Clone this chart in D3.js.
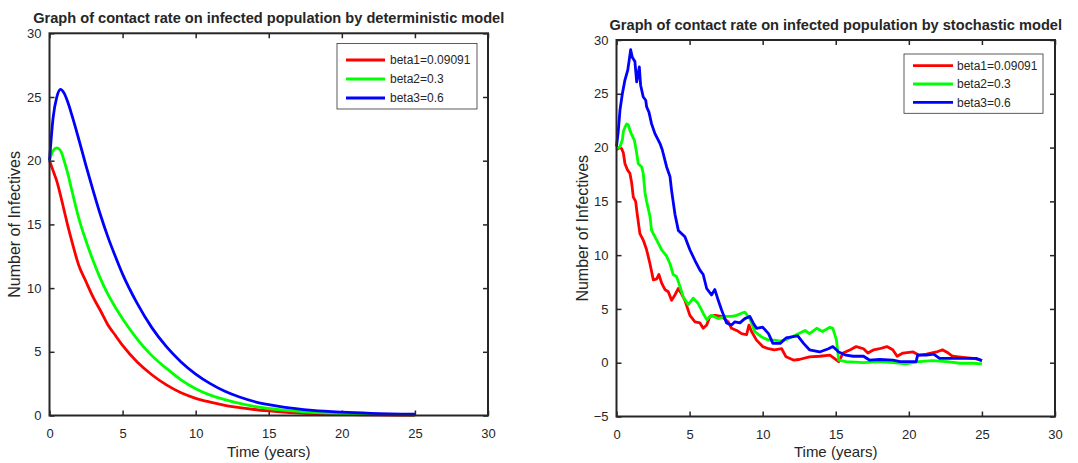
<!DOCTYPE html>
<html lang="en">
<head>
    <meta charset="UTF-8">
    <title>Contact rate on infected population</title>
    <style>
        body { margin: 0; background: #fff; }
        text { font-family: "Liberation Sans", Arial, sans-serif; fill: #262626; }
    </style>
</head>
<body>
    <script src="https://d3js.org/d3.v7.min.js"></script>
    <script>
        const width = 1078;
        const height = 463;

        // legend labels + colours
        const seriesNames = ["beta1=0.09091", "beta2=0.3", "beta3=0.6"];
        const seriesColors = ["#ff0000", "#00ff00", "#0000ff"];

        // deterministic model (left)
        const detTime = [0, 0.25, 0.5, 0.75, 1, 1.25, 1.5, 2, 2.5, 3, 3.5, 4, 4.5, 5, 6, 7, 8, 9, 10, 11, 12, 13, 14, 15, 16, 18, 20, 22, 25];
        const detBeta1 = [20, 19.2, 18.4, 17.3, 16.1, 14.9, 13.8, 11.8, 10.5, 9.25, 8.2, 7.1, 6.3, 5.5, 4.2, 3.2, 2.4, 1.78, 1.35, 1.05, 0.8, 0.62, 0.47, 0.36, 0.27, 0.15, 0.09, 0.05, 0.02];
        const detBeta2 = [20, 20.8, 21.0, 20.8, 20.0, 19.0, 17.8, 15.5, 13.7, 12.1, 10.7, 9.5, 8.5, 7.6, 6.0, 4.7, 3.7, 2.8, 2.1, 1.6, 1.25, 0.95, 0.72, 0.55, 0.42, 0.25, 0.15, 0.09, 0.04];
        const detBeta3 = [20, 23.4, 25.0, 25.6, 25.3, 24.6, 23.7, 21.7, 19.6, 17.6, 15.7, 14.0, 12.5, 11.1, 8.8, 6.9, 5.4, 4.2, 3.25, 2.5, 1.9, 1.45, 1.1, 0.85, 0.65, 0.4, 0.26, 0.17, 0.1];

        // stochastic model (right)
        const stoTime1 = [0, 0.2, 0.35, 0.47, 0.58, 0.76, 0.92, 1.04, 1.15, 1.31, 1.4, 1.6, 1.83, 2.06, 2.29, 2.52, 2.75, 2.9, 3.09, 3.32, 3.54, 3.77, 4.0, 4.23, 4.45, 4.68, 5.02, 5.37, 5.71, 5.93, 6.17, 6.39, 6.73, 7.19, 7.64, 7.87, 8.22, 8.56, 8.9, 9.06, 9.24, 9.58, 10.0, 10.4, 10.8, 11.3, 11.6, 12.1, 12.5, 13.2, 13.9, 14.6, 14.9, 15.2, 15.5, 16.0, 16.4, 16.9, 17.2, 17.6, 18.0, 18.5, 18.9, 19.2, 19.6, 20.3, 20.7, 21.2, 21.9, 22.3, 22.7, 23.0, 23.7, 24.4, 24.8, 25];
        const stoBeta1 = [19.8, 20.0, 19.9, 19.5, 18.5, 17.9, 17.6, 16.7, 15.4, 15.0, 14.0, 12.0, 11.4, 10.5, 9.2, 7.7, 7.8, 8.2, 7.4, 6.8, 6.6, 5.8, 6.3, 6.9, 6.4, 5.8, 4.4, 3.8, 3.7, 3.2, 3.5, 4.3, 4.4, 4.3, 3.8, 3.2, 3.0, 2.7, 2.6, 3.5, 2.9, 2.1, 1.5, 1.3, 1.2, 1.3, 0.55, 0.25, 0.3, 0.55, 0.6, 0.7, 0.4, 0.1, 0.9, 1.2, 1.5, 1.3, 0.9, 1.2, 1.3, 1.5, 1.2, 0.6, 0.9, 1.0, 0.7, 0.8, 1.0, 1.2, 0.9, 0.6, 0.5, 0.4, 0.3, 0.2];
        const stoTime2 = [0, 0.24, 0.4, 0.47, 0.58, 0.7, 0.81, 0.92, 1.04, 1.22, 1.38, 1.49, 1.72, 1.83, 1.95, 2.06, 2.29, 2.4, 2.75, 3.09, 3.43, 3.66, 3.88, 4.11, 4.34, 4.57, 4.91, 5.25, 5.59, 5.93, 6.17, 6.5, 6.96, 7.42, 7.87, 8.22, 8.56, 8.78, 9.12, 9.46, 9.92, 10.4, 10.8, 11.2, 11.7, 12.3, 12.9, 13.2, 13.7, 14.1, 14.6, 14.8, 15.05, 15.2, 15.7, 16.9, 18.0, 18.9, 19.8, 20.7, 21.6, 22.6, 23.5, 24.4, 25];
        const stoBeta2 = [19.9, 20.1, 20.7, 21.5, 21.9, 22.2, 22.1, 21.6, 21.2, 20.7, 19.5, 18.5, 18.2, 17.6, 15.8, 15.0, 13.6, 12.3, 11.4, 10.5, 9.9, 9.2, 8.2, 8.0, 7.1, 6.1, 5.4, 6.0, 5.5, 4.6, 4.0, 4.4, 4.1, 4.3, 4.3, 4.4, 4.6, 4.7, 4.1, 2.9, 2.4, 2.1, 2.1, 2.0, 2.2, 2.6, 3.0, 2.7, 3.2, 2.9, 3.3, 3.2, 2.1, 0.25, 0.1, 0.0, 0.1, 0.0, -0.1, 0.1, 0.2, 0.1, -0.05, -0.05, -0.1];
        const stoTime3 = [0, 0.12, 0.24, 0.4, 0.58, 0.77, 0.97, 1.08, 1.26, 1.38, 1.56, 1.65, 1.83, 2.0, 2.06, 2.22, 2.4, 2.63, 2.97, 3.13, 3.43, 3.66, 3.77, 4.0, 4.23, 4.68, 5.02, 5.37, 5.71, 5.93, 6.17, 6.5, 6.73, 6.96, 7.19, 7.53, 7.87, 8.1, 8.44, 8.78, 9.12, 9.35, 9.58, 10.0, 10.4, 10.7, 11.2, 11.6, 12.4, 12.8, 13.2, 13.9, 14.5, 14.8, 15.2, 15.7, 16.2, 16.9, 17.3, 18.0, 18.9, 19.4, 20.1, 20.5, 20.6, 21.2, 21.7, 22.1, 23.0, 23.9, 24.6, 25];
        const stoBeta3 = [20.1, 21.5, 23.5, 25.0, 26.3, 27.2, 29.1, 28.4, 28.0, 26.1, 27.5, 25.8, 24.7, 24.4, 23.8, 23.3, 22.2, 21.3, 20.4, 19.8, 18.2, 17.3, 16.0, 13.8, 12.3, 11.7, 10.5, 9.5, 8.6, 8.2, 6.9, 6.3, 6.8, 5.8, 4.9, 3.7, 3.5, 3.8, 3.7, 4.1, 4.3, 3.7, 3.2, 3.3, 2.7, 1.8, 1.8, 2.3, 2.5, 1.8, 1.2, 1.0, 1.3, 1.5, 1.0, 0.7, 0.6, 0.6, 0.25, 0.3, 0.25, 0.1, 0.1, 0.1, 0.7, 0.7, 0.8, 0.4, 0.4, 0.4, 0.4, 0.2];

        const xTicks = [0, 5, 10, 15, 20, 25, 30];

        const svg = d3.select("body")
            .append("svg")
            .attr("width", width)
            .attr("height", height);

        function drawPanel(p) {
            const x = d3.scaleLinear().domain([0, 30]).range([p.left, p.right]);
            const y = d3.scaleLinear().domain(p.yDomain).range([p.bottom, p.top]);
            const g = svg.append("g");

            // ticks point inward on all four sides (matlab box)
            g.append("g")
                .attr("transform", "translate(0," + p.bottom + ")")
                .call(d3.axisBottom(x).tickValues(xTicks).tickSize(-5).tickSizeOuter(0).tickPadding(13));
            g.append("g")
                .attr("transform", "translate(0," + p.top + ")")
                .call(d3.axisTop(x).tickValues(xTicks).tickSize(-5).tickSizeOuter(0).tickFormat(""));
            g.append("g")
                .attr("transform", "translate(" + p.left + ",0)")
                .call(d3.axisLeft(y).tickValues(p.yTicks).tickSize(-5).tickSizeOuter(0).tickPadding(8));
            g.append("g")
                .attr("transform", "translate(" + p.right + ",0)")
                .call(d3.axisRight(y).tickValues(p.yTicks).tickSize(-5).tickSizeOuter(0).tickFormat(""));

            g.selectAll(".domain").remove();
            g.selectAll(".tick line").attr("stroke", "#262626").attr("stroke-width", 1.5);
            g.selectAll(".tick text").style("font-size", "13px").attr("fill", "#262626");

            const line = d3.line()
                .x(d => x(d[0]))
                .y(d => y(d[1]))
                .curve(p.curve);

            p.series.forEach((s, i) => {
                g.append("path")
                    .datum(d3.zip(s.t, s.v))
                    .attr("fill", "none")
                    .attr("stroke", seriesColors[i])
                    .attr("stroke-width", 2.8)
                    .attr("stroke-linejoin", "round")
                    .attr("d", line);
            });

            g.append("rect")
                .attr("x", p.left).attr("y", p.top)
                .attr("width", p.right - p.left).attr("height", p.bottom - p.top)
                .attr("fill", "none").attr("stroke", "#262626").attr("stroke-width", 2);

            // titles and labels
            g.append("text")
                .attr("x", (p.left + p.right) / 2).attr("y", p.top - 10)
                .attr("text-anchor", "middle")
                .style("font-size", "14.6px").style("font-weight", "bold").attr("fill", "#000")
                .text(p.title);
            g.append("text")
                .attr("x", (p.left + p.right) / 2).attr("y", 457)
                .attr("text-anchor", "middle")
                .style("font-size", "15px")
                .text("Time (years)");
            g.append("text")
                .attr("transform", "translate(" + p.yLabelX + "," + (p.top + p.bottom) / 2 + ") rotate(-90)")
                .attr("text-anchor", "middle")
                .style("font-size", "16px")
                .text("Number of Infectives");

            // legend
            const lg = g.append("g");
            lg.append("rect")
                .attr("x", p.legend.x).attr("y", p.legend.y)
                .attr("width", p.legend.w).attr("height", p.legend.h)
                .attr("fill", "#fff").attr("stroke", "#333").attr("stroke-width", 0.8);
            seriesNames.forEach((name, i) => {
                const ry = p.legend.y + p.legend.pad + i * p.legend.step;
                lg.append("line")
                    .attr("x1", p.legend.x + p.legend.lx1).attr("x2", p.legend.x + p.legend.lx2)
                    .attr("y1", ry).attr("y2", ry)
                    .attr("stroke", seriesColors[i]).attr("stroke-width", 2.8);
                lg.append("text")
                    .attr("x", p.legend.x + p.legend.tx).attr("y", ry)
                    .attr("dy", "0.35em")
                    .style("font-size", "12px")
                    .text(name);
            });
        }

        drawPanel({
            left: 49.5, right: 488, top: 33.3, bottom: 415.5,
            yDomain: [0, 30], yTicks: [0, 5, 10, 15, 20, 25, 30],
            title: "Graph of contact rate on infected population by deterministic model",
            yLabelX: 20,
            curve: d3.curveMonotoneX,
            series: [
                { t: detTime, v: detBeta1 },
                { t: detTime, v: detBeta2 },
                { t: detTime, v: detBeta3 }
            ],
            legend: { x: 337, y: 43.5, w: 140, h: 65.5, pad: 16.5, step: 19, lx1: 9, lx2: 48, tx: 53 }
        });

        drawPanel({
            left: 616.5, right: 1055, top: 40, bottom: 416.5,
            yDomain: [-5, 30], yTicks: [-5, 0, 5, 10, 15, 20, 25, 30],
            title: "Graph of contact rate on infected population by stochastic model",
            yLabelX: 588,
            curve: d3.curveLinear,
            series: [
                { t: stoTime1, v: stoBeta1 },
                { t: stoTime2, v: stoBeta2 },
                { t: stoTime3, v: stoBeta3 }
            ],
            legend: { x: 904, y: 54, w: 139, h: 59.3, pad: 11.7, step: 18.3, lx1: 9, lx2: 49, tx: 53 }
        });
    </script>
</body>
</html>
